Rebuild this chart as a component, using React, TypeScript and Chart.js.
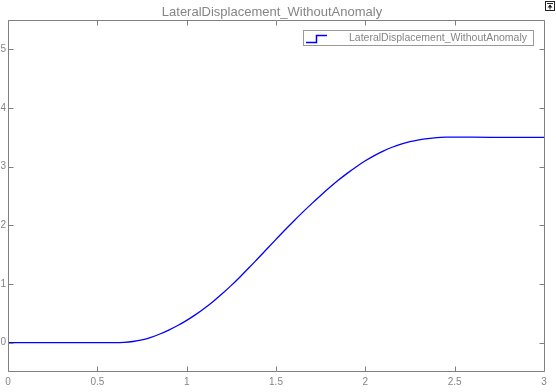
import React, { useEffect, useRef } from "react";
import { Chart, registerables } from "chart.js";

Chart.register(...registerables);

const TITLE = "LateralDisplacement_WithoutAnomaly";
const SERIES_LABEL = "LateralDisplacement_WithoutAnomaly";

const timeValues = [
  0, 0.3, 0.6, 0.65, 0.7, 0.75, 0.8, 0.85, 0.9, 0.95, 1.0, 1.05, 1.1, 1.15, 1.2,
  1.25, 1.3, 1.35, 1.4, 1.45, 1.5, 1.55, 1.6, 1.65, 1.7, 1.75, 1.8, 1.85, 1.9,
  1.95, 2.0, 2.05, 2.1, 2.15, 2.2, 2.25, 2.3, 2.35, 2.4, 2.45, 2.5, 2.55, 2.6,
  2.7, 2.85, 3.0,
];
const displacementValues = [
  0, 0, 0, 0.005, 0.02, 0.047, 0.09, 0.148, 0.215, 0.292, 0.38, 0.478, 0.587,
  0.707, 0.837, 0.977, 1.125, 1.28, 1.44, 1.6, 1.76, 1.92, 2.075, 2.225, 2.37,
  2.51, 2.644, 2.771, 2.89, 3.0, 3.1, 3.189, 3.266, 3.331, 3.384, 3.425, 3.456,
  3.479, 3.494, 3.502, 3.505, 3.504, 3.502, 3.5, 3.5, 3.5,
];

const xTickValues = [0, 0.5, 1, 1.5, 2, 2.5, 3];
const yTickValues = [0, 1, 2, 3, 4, 5];
const X_MIN = 0;
const X_MAX = 3;
const Y_MIN = -0.5;
const Y_MAX = 5.5;

const AXIS_COLOR = "#808080";
const TEXT_COLOR = "#858585";
const LINE_COLOR = "#0000ff";
const FONT = "'Liberation Sans', Arial, Helvetica, sans-serif";

const framePlugin = {
  id: "frameAndLegend",
  afterDraw(chart: any) {
    const { ctx, chartArea, scales } = chart;
    const { left, right, top, bottom } = chartArea;
    const xs = scales.x;
    const ys = scales.y;
    ctx.save();
    ctx.strokeStyle = AXIS_COLOR;
    ctx.lineWidth = 1;
    const L = Math.round(left) + 0.5;
    const R = Math.round(right) + 0.5;
    const T = Math.round(top) + 0.5;
    const B = Math.round(bottom) - 0.5;
    ctx.beginPath();
    ctx.rect(L, T, R - L, B - T);
    ctx.stroke();
    const tl = 5;
    ctx.beginPath();
    xTickValues.forEach((v) => {
      const px = Math.round(xs.getPixelForValue(v)) + 0.5;
      ctx.moveTo(px, B);
      ctx.lineTo(px, B - tl);
      ctx.moveTo(px, T);
      ctx.lineTo(px, T + tl);
    });
    yTickValues.forEach((v) => {
      const py = Math.round(ys.getPixelForValue(v)) + 0.5;
      ctx.moveTo(L, py);
      ctx.lineTo(L + tl, py);
      ctx.moveTo(R, py);
      ctx.lineTo(R - tl, py);
    });
    ctx.stroke();

    // legend box
    const label = chart.data.datasets[0].label;
    const bx = 303.5;
    const by = 30.5;
    const bw = 230;
    const bh = 15;
    ctx.fillStyle = "#ffffff";
    ctx.fillRect(bx, by, bw, bh);
    ctx.strokeStyle = "#9a9a9a";
    ctx.strokeRect(bx, by, bw, bh);
    ctx.strokeStyle = LINE_COLOR;
    ctx.lineWidth = 1.5;
    ctx.beginPath();
    ctx.moveTo(306, 42.5);
    ctx.lineTo(316.5, 42.5);
    ctx.lineTo(316.5, 35.5);
    ctx.lineTo(327, 35.5);
    ctx.stroke();
    ctx.fillStyle = TEXT_COLOR;
    ctx.font = "10.5px " + FONT;
    ctx.textBaseline = "middle";
    ctx.textAlign = "left";
    ctx.fillText(label, 349, by + bh / 2 + 0.5);

    // small export icon, top right
    ctx.strokeStyle = "#222222";
    ctx.lineWidth = 1;
    ctx.strokeRect(545.5, 1.5, 9, 9);
    ctx.beginPath();
    ctx.moveTo(547, 3.5);
    ctx.lineTo(553, 3.5);
    ctx.moveTo(550, 9.5);
    ctx.lineTo(550, 5);
    ctx.stroke();
    ctx.fillStyle = "#222222";
    ctx.beginPath();
    ctx.moveTo(550, 4.5);
    ctx.lineTo(547.5, 7.5);
    ctx.lineTo(552.5, 7.5);
    ctx.closePath();
    ctx.fill();
    ctx.restore();
  },
};

export default function App() {
  const canvasRef = useRef<HTMLCanvasElement | null>(null);

  useEffect(() => {
    document.body.style.margin = "0";
    const canvas = canvasRef.current;
    if (!canvas) return;
    const points = timeValues.map((t, i) => ({ x: t, y: displacementValues[i] }));
    const chart = new Chart(canvas, {
      type: "line",
      data: {
        datasets: [
          {
            label: SERIES_LABEL,
            data: points,
            borderColor: LINE_COLOR,
            backgroundColor: LINE_COLOR,
            borderWidth: 1.3,
            pointRadius: 0,
            cubicInterpolationMode: "monotone",
            fill: false,
          },
        ],
      },
      options: {
        animation: false,
        responsive: false,
        devicePixelRatio: 1,
        layout: { padding: { left: 0, right: 12, top: 0, bottom: 0 } },
        plugins: {
          legend: { display: false },
          tooltip: { enabled: false },
          title: {
            display: true,
            text: TITLE,
            color: TEXT_COLOR,
            font: { family: FONT, size: 13, weight: "normal" },
            padding: { top: 4.4, bottom: 0 },
          },
        },
        scales: {
          x: {
            type: "linear",
            min: X_MIN,
            max: X_MAX,
            grid: { display: false, drawTicks: false },
            border: { display: false },
            afterBuildTicks: (s: any) => {
              s.ticks = xTickValues.map((v) => ({ value: v }));
            },
            afterFit: (s: any) => {
              s.height = 20;
            },
            ticks: {
              color: TEXT_COLOR,
              font: { family: FONT, size: 10 },
              padding: 4,
              maxRotation: 0,
              callback: (v: any) => String(v),
            },
          },
          y: {
            type: "linear",
            min: Y_MIN,
            max: Y_MAX,
            grid: { display: false, drawTicks: false },
            border: { display: false },
            afterBuildTicks: (s: any) => {
              s.ticks = yTickValues.map((v) => ({ value: v }));
            },
            afterFit: (s: any) => {
              s.width = 8;
            },
            ticks: {
              color: TEXT_COLOR,
              font: { family: FONT, size: 10 },
              padding: 2,
              callback: (v: any) => String(v),
            },
          },
        },
      },
      plugins: [framePlugin],
    });
    return () => chart.destroy();
  }, []);

  return (
    <div style={{ width: 556, height: 392 }}>
      <canvas ref={canvasRef} width={556} height={392} style={{ display: "block" }} />
    </div>
  );
}
